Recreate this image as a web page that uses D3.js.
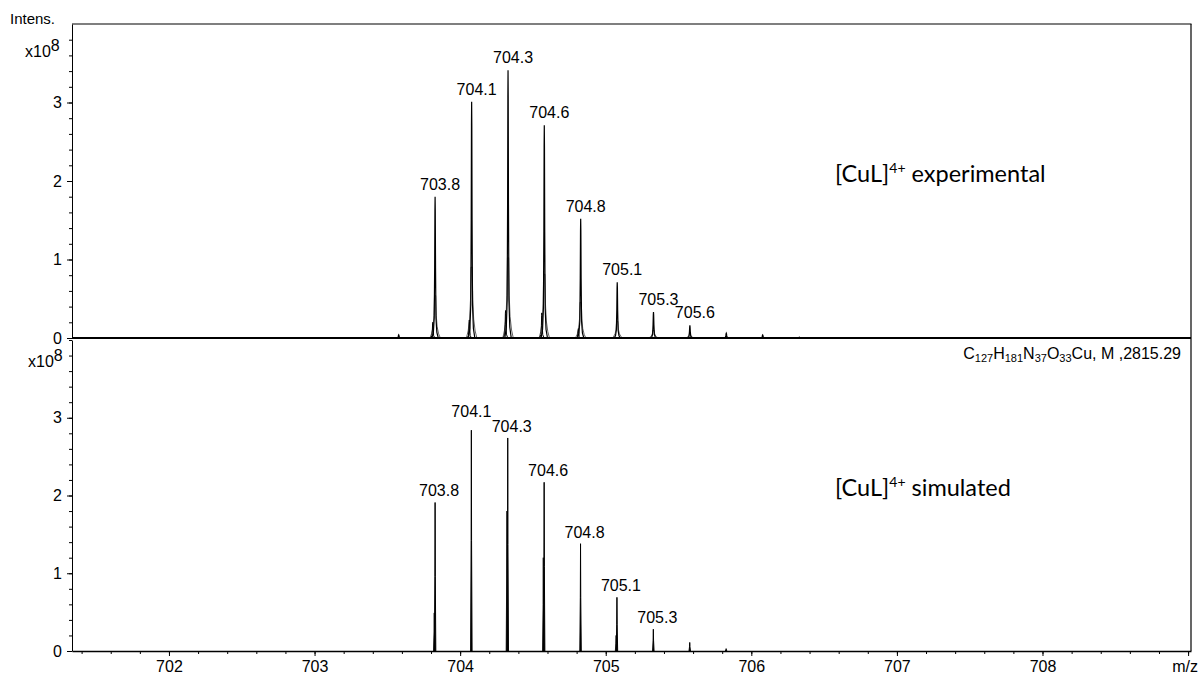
<!DOCTYPE html>
<html>
<head>
<meta charset="utf-8">
<script src="https://cdn.jsdelivr.net/npm/d3@7.9.0/dist/d3.min.js"></script>
<style>
  body { margin: 0; background: #fff; }
  svg text { font-family: "Liberation Sans", Arial, sans-serif; fill: #000; }
  .axis path, .axis line { stroke: #000; }
  .note { font-family: Lato, "Open Sans", sans-serif; }
</style>
</head>
<body>
<svg id="chart" width="1200" height="675"></svg>
<script>
// experimental isotope pattern (x10^8)
const expMz  = [703.578, 703.828, 704.079, 704.329, 704.578, 704.828, 705.079, 705.328, 705.578, 705.828, 706.078, 706.330];
const expInt = [0.04,    1.80,    3.01,    3.41,    2.71,    1.52,    0.71,    0.33,    0.16,    0.06,    0.04,    0.01];
const expLabels = ["", "703.8", "704.1", "704.3", "704.6", "704.8", "705.1", "705.3", "705.6", "", "", ""];

// small overlapping species on the low-mass side of the main peaks
const expSideMz  = [703.812, 704.063, 704.312, 704.561, 704.812];
const expSideInt = [0.20,    0.23,    0.35,    0.32,    0.12];

// simulated pattern
const simMz  = [703.828, 704.077, 704.327, 704.577, 704.827, 705.077, 705.327, 705.577, 705.827];
const simInt = [1.91,    2.84,    2.74,    2.17,    1.38,    0.69,    0.28,    0.11,    0.03];
const simLabels = ["703.8", "704.1", "704.3", "704.6", "704.8", "705.1", "705.3", "", ""];
const simSideMz  = [703.822, 704.321, 704.571, 705.071];
const simSideInt = [0.49,    1.80,    1.20,    0.20];

const xTicks = [702, 703, 704, 705, 706, 707, 708, 709];
const yTicks = [0, 1, 2, 3];

const svg = d3.select("#chart");

const x = d3.scaleLinear().domain([701.334, 709.02]).range([72, 1191]);
const yTop = d3.scaleLinear().domain([0, 4]).range([338, 24]);
const yBot = d3.scaleLinear().domain([0, 4]).range([651, 340]);

// peak shape templates: [m/z offset, relative height]
const mainShape = [[-0.022,0],[-0.012,0.04],[-0.006,0.14],[-0.003,0.5],[-0.0012,0.9],[0,1],
                   [0.0012,0.9],[0.003,0.5],[0.006,0.14],[0.012,0.04],[0.022,0]];
const skirtShape = [[-0.036,0],[-0.024,0.03],[-0.014,0.08],[-0.008,0.16],[-0.004,0.3],
                    [0.004,0.3],[0.008,0.16],[0.014,0.08],[0.024,0.03],[0.036,0]];
const simShape = [[-0.005,0],[-0.0015,0.5],[0,1],[0.0015,0.5],[0.005,0]];

function peakPath(y, shape, mz, h) {
  return d3.line()
    .x(d => x(mz + d[0]))
    .y(d => y(h * d[1]))(shape);
}

// ---------- top panel (experimental) ----------
const topG = svg.append("g");

expMz.forEach((mz, i) => {
  topG.append("path")
    .attr("d", peakPath(yTop, skirtShape, mz, expInt[i]))
    .attr("fill", "none").attr("stroke", "#222").attr("stroke-width", 0.7);
});
expSideMz.forEach((mz, i) => {
  topG.append("path")
    .attr("d", peakPath(yTop, mainShape, mz, expSideInt[i]))
    .attr("fill", "none").attr("stroke", "#000").attr("stroke-width", 1);
});
expMz.forEach((mz, i) => {
  topG.append("path")
    .attr("d", peakPath(yTop, mainShape, mz, expInt[i]))
    .attr("fill", "none").attr("stroke", "#000").attr("stroke-width", 1.2);
  if (expLabels[i]) {
    topG.append("text")
      .attr("x", x(mz) + 5)
      .attr("y", yTop(expInt[i]) - 7)
      .attr("text-anchor", "middle")
      .attr("font-size", 16)
      .text(expLabels[i]);
  }
});

// baseline of the spectrum + frame
topG.append("line")
  .attr("x1", x.range()[0]).attr("x2", x.range()[1])
  .attr("y1", yTop(0)).attr("y2", yTop(0))
  .attr("stroke", "#000").attr("stroke-width", 2.2);
topG.append("line")
  .attr("x1", 72).attr("x2", 1191.5).attr("y1", 24).attr("y2", 24)
  .attr("stroke", "#000").attr("stroke-width", 1.2);
svg.append("line")
  .attr("x1", 1191).attr("x2", 1191).attr("y1", 24).attr("y2", 651)
  .attr("stroke", "#000").attr("stroke-width", 1.2);

topG.append("g").attr("class", "axis")
  .attr("transform", "translate(72,0)")
  .call(d3.axisLeft(yTop).tickValues(d3.range(0, 3.81, 0.2)).tickSize(3).tickFormat(""))
  .call(g => g.select(".domain").remove());
topG.append("g").attr("class", "axis")
  .attr("transform", "translate(72,0)")
  .call(d3.axisLeft(yTop).tickValues(yTicks).tickFormat(d3.format("d"))
    .tickSize(5).tickPadding(5).tickSizeOuter(0))
  .call(g => g.selectAll("text").attr("font-size", 16).attr("font-family", "Liberation Sans, Arial, sans-serif"));

topG.append("text").attr("x", 10).attr("y", 24).attr("font-size", 15).text("Intens.");
const sc1 = topG.append("text").attr("x", 25).attr("y", 57).attr("font-size", 16);
sc1.append("tspan").text("x10");
sc1.append("tspan").attr("dy", -6).text("8");

const n1 = topG.append("text").attr("class", "note").attr("x", 835).attr("y", 182).attr("font-size", 23.5);
n1.append("tspan").text("[CuL]");
n1.append("tspan").attr("dy", -9).attr("font-size", 14).text("4+");
n1.append("tspan").attr("dy", 9).text(" experimental");

// ---------- bottom panel (simulated) ----------
const botG = svg.append("g");

simSideMz.forEach((mz, i) => {
  botG.append("path")
    .attr("d", peakPath(yBot, simShape, mz, simSideInt[i]))
    .attr("fill", "#000").attr("stroke", "#000").attr("stroke-width", 0.8);
});
simMz.forEach((mz, i) => {
  botG.append("path")
    .attr("d", peakPath(yBot, simShape, mz, simInt[i]))
    .attr("fill", "#000").attr("stroke", "#000").attr("stroke-width", 1);
  if (simLabels[i]) {
    // the 704.1 label is lifted to clear its neighbour
    const lift = simLabels[i] === "704.1" ? 13 : 6;
    const dx = simLabels[i] === "704.1" ? 0 : 4;
    botG.append("text")
      .attr("x", x(mz) + dx)
      .attr("y", yBot(simInt[i]) - lift)
      .attr("text-anchor", "middle")
      .attr("font-size", 16)
      .text(simLabels[i]);
  }
});

botG.append("g").attr("class", "axis")
  .attr("transform", "translate(72,0)")
  .call(d3.axisLeft(yBot).tickValues(d3.range(0, 4.01, 0.2)).tickSize(3).tickFormat(""))
  .call(g => g.select(".domain").remove());
botG.append("g").attr("class", "axis")
  .attr("transform", "translate(72,0)")
  .call(d3.axisLeft(yBot).tickValues(yTicks).tickFormat(d3.format("d"))
    .tickSize(5).tickPadding(5).tickSizeOuter(0))
  .call(g => g.selectAll("text").attr("font-size", 16).attr("font-family", "Liberation Sans, Arial, sans-serif"));

botG.append("g").attr("class", "axis")
  .attr("transform", "translate(0,651)")
  .call(d3.axisBottom(x).tickValues(d3.range(701.4, 709.01, 0.2)).tickSize(3).tickFormat(""))
  .call(g => g.select(".domain").remove());
botG.append("g").attr("class", "axis")
  .attr("transform", "translate(0,651)")
  .call(d3.axisBottom(x).tickValues(xTicks).tickSize(5).tickPadding(5).tickSizeOuter(0)
    .tickFormat(d => d === 709 ? "" : d))
  .call(g => g.select(".domain").attr("stroke-width", 1.6))
  .call(g => g.selectAll("text").attr("font-size", 16).attr("font-family", "Liberation Sans, Arial, sans-serif"));

botG.append("text").attr("x", 1198).attr("y", 672).attr("text-anchor", "end")
  .attr("font-size", 16).text("m/z");

const sc2 = botG.append("text").attr("x", 28).attr("y", 367).attr("font-size", 16);
sc2.append("tspan").text("x10");
sc2.append("tspan").attr("dy", -6).text("8");

// formula
const f = botG.append("text").attr("x", 1181).attr("y", 359).attr("text-anchor", "end").attr("font-size", 16);
[["C", false], ["127", true], ["H", false], ["181", true], ["N", false], ["37", true],
 ["O", false], ["33", true], ["Cu,  M ,2815.29", false]].forEach(([t, sub], i, arr) => {
  const prevSub = i > 0 && arr[i - 1][1];
  f.append("tspan")
    .attr("dy", sub ? 3 : (prevSub ? -3 : 0))
    .attr("font-size", sub ? 11 : 16)
    .text(t);
});

const n2 = botG.append("text").attr("class", "note").attr("x", 835).attr("y", 496).attr("font-size", 23.5);
n2.append("tspan").text("[CuL]");
n2.append("tspan").attr("dy", -9).attr("font-size", 14).text("4+");
n2.append("tspan").attr("dy", 9).text(" simulated");
</script>
</body>
</html>
